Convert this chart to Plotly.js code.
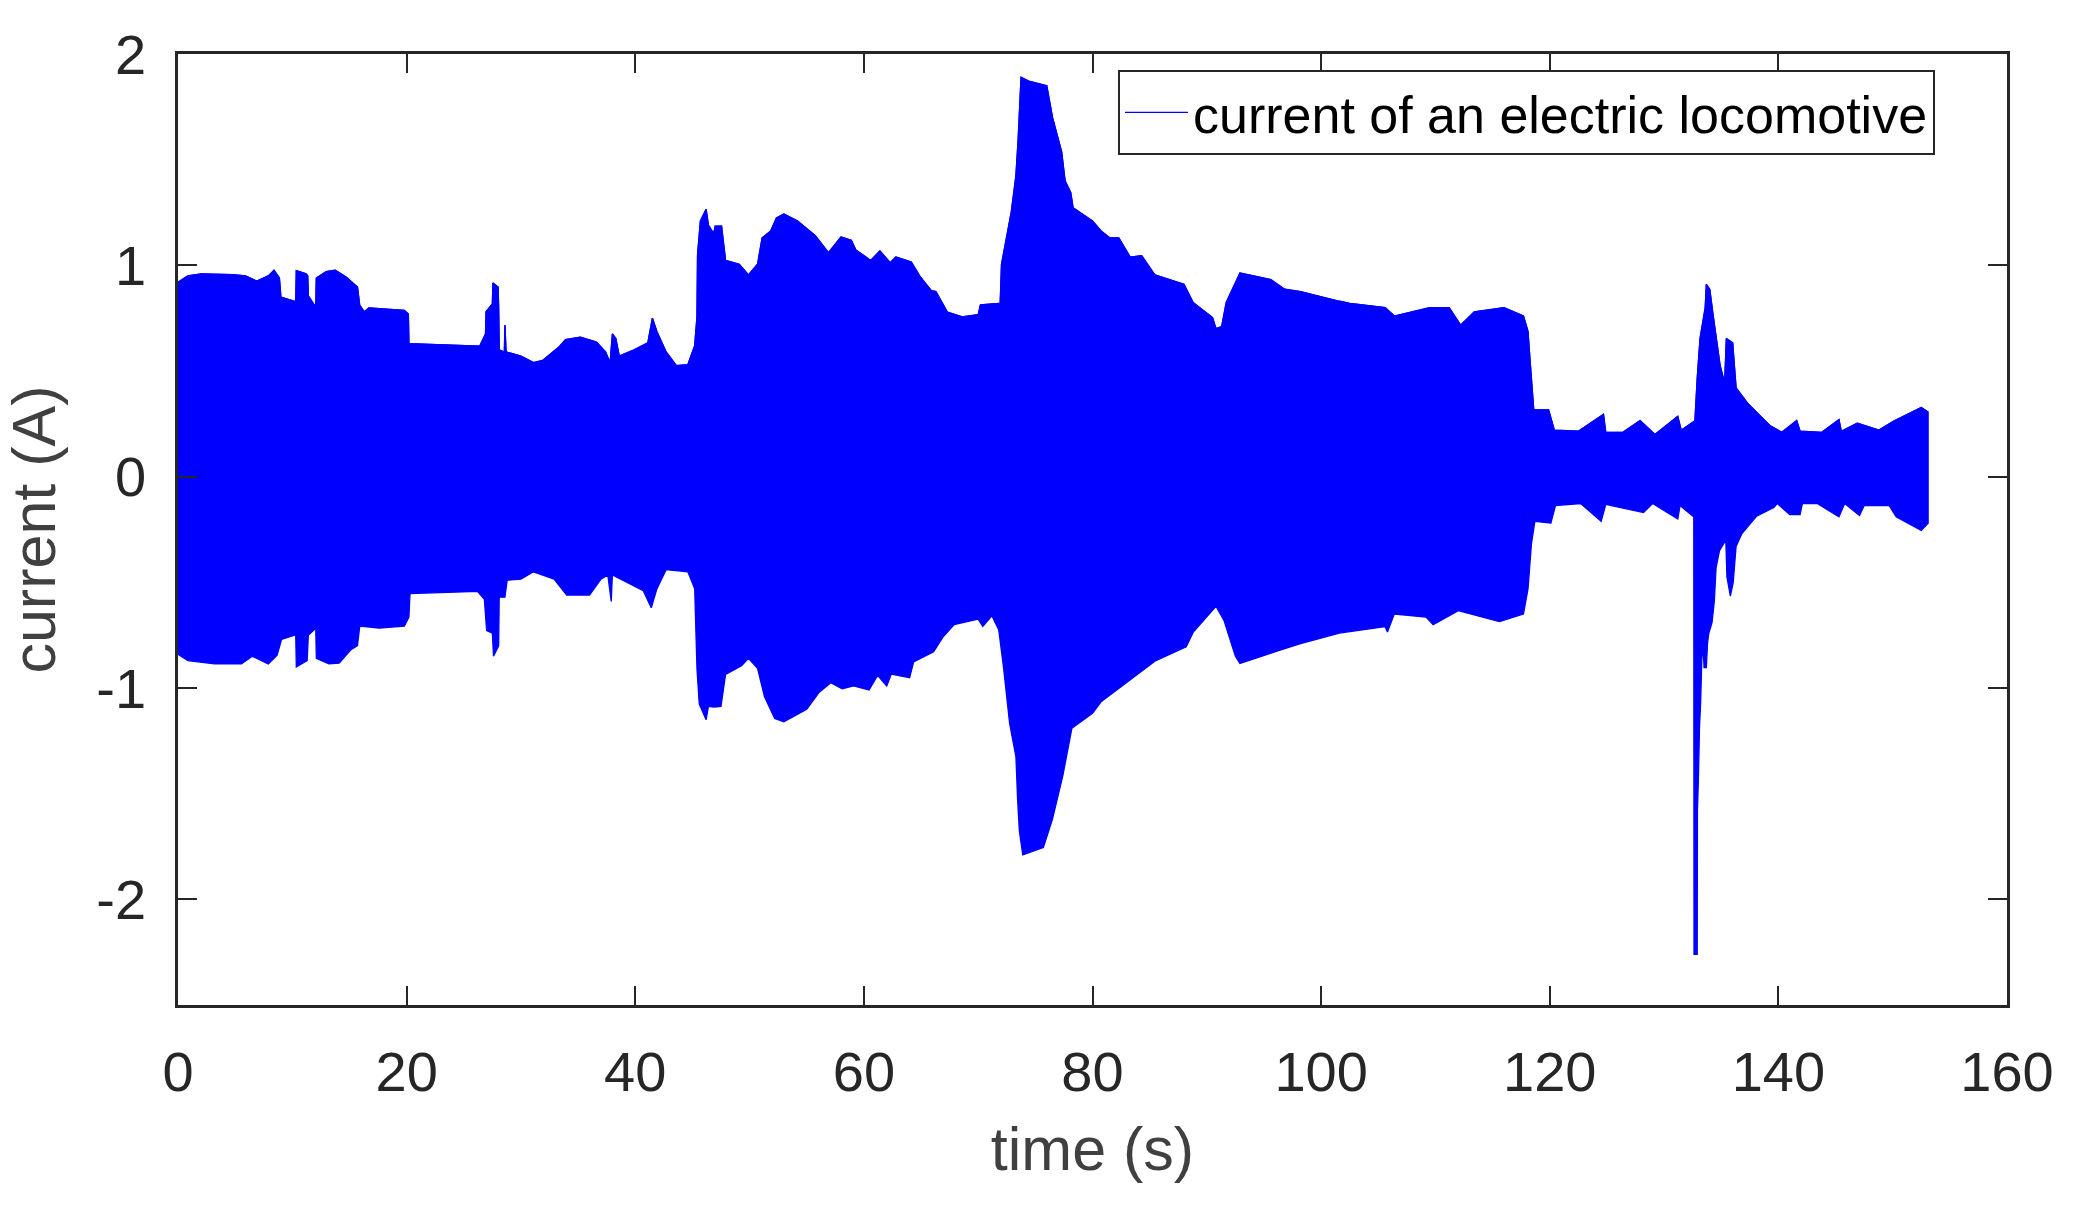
<!DOCTYPE html>
<html><head><meta charset="utf-8">
<script src="https://cdn.plot.ly/plotly-3.0.1.min.js"></script>
<style>html,body{margin:0;padding:0;background:#fff}#chart{width:2079px;height:1229px}</style>
</head><body><div id="chart"></div>
<script>
const upperTime = [0,.86,2.03,4.77,5.9,6.9,7.9,8.4,8.87,9.0,10.2,10.3,10.35,11.2,11.35,11.4,12,12.05,12.1,12.97,13.75,14.7,15.7,15.9,16.3,16.7,19.8,20.15,20.2,26.4,26.9,26.95,27.5,27.55,28,28.05,28.1,28.55,28.6,28.7,30,31.1,31.9,33.3,33.9,35.2,36.6,37.4,37.8,38,38.3,38.6,39.9,41.1,41.5,41.9,42.7,43.6,44.6,45.2,45.4,45.45,45.7,46.2,46.4,46.85,47,47.55,47.9,49.1,49.9,50.7,51.1,51.85,52.35,53,54.2,55.75,56.9,58,58.9,59.3,60.6,61.4,62.3,62.8,64.15,64.9,65.9,66.3,67.3,68.6,70,70.2,71.8,71.9,72.04,72.55,72.9,73.3,73.5,73.75,74.5,76,76.5,77.3,77.6,78.1,78.3,80,80.75,81.5,82.3,83.3,84.3,85.45,88,88.8,90.5,90.8,91.3,91.7,92.9,95.6,96.8,98.2,101.6,102.5,105.6,106.4,109.5,111.2,112.2,113.4,116,117.7,118.1,118.25,118.6,119.9,120.4,122.5,124.7,124.9,126.4,127.9,129.2,131.2,131.5,132.7,132.9,133.15,133.6,133.7,134,134.3,134.9,135.3,135.45,136,136.3,137.3,139.25,140.3,141.6,141.9,143.8,145.3,145.5,146.9,148.8,150.1,152.5,153.1];
const upperValues = [.92,.95,.96,.956,.95,.925,.95,.977,.94,.85,.83,.83,.975,.96,.95,.855,.806,.806,.94,.97,.977,.945,.897,.81,.78,.798,.787,.77,.63,.618,.675,.78,.817,.916,.897,.8,.6,.59,.717,.59,.57,.54,.55,.612,.648,.66,.637,.59,.538,.675,.654,.57,.6,.633,.75,.686,.59,.525,.53,.62,.756,1.05,1.21,1.265,1.19,1.15,1.186,1.186,1.023,1.005,.955,1.005,1.13,1.163,1.224,1.243,1.21,1.14,1.06,1.134,1.118,1.073,1.023,1.068,1.012,1.04,1.016,.948,.88,.876,.779,.756,.767,.813,.82,.783,1.005,1.152,1.254,1.424,1.6,1.89,1.87,1.85,1.7,1.537,1.4,1.344,1.272,1.21,1.163,1.13,1.13,1.039,1.046,.955,.91,.824,.752,.7,.71,.824,.964,.933,.887,.875,.83,.82,.8,.76,.8,.8,.717,.78,.8,.76,.686,.57,.316,.316,.22,.215,.295,.21,.21,.265,.2,.285,.22,.265,.464,.654,.8,.91,.886,.76,.527,.443,.654,.633,.42,.348,.242,.21,.265,.215,.21,.27,.215,.253,.22,.263,.327,.306];
const lowerTime = [0,.86,3.2,5.55,6.5,7.9,8.67,9.06,10.2,10.3,10.35,11.3,11.4,12,12.05,12.1,13.2,14.1,15.1,15.7,15.9,17.6,19.8,20.2,20.3,26.2,26.8,27,27.5,27.6,28.05,28.1,28.6,28.8,30,31.1,32.9,34,36,37,37.6,37.9,38,40.7,41.4,41.9,42.7,44.6,45.2,45.4,45.6,46.2,46.4,46.9,47.5,47.9,49.3,49.9,50.7,51.3,52.2,53,55,56.1,57.1,58.1,59.1,60.45,61.2,62,62.4,64,64.35,66.1,66.9,67.9,70,70.4,71.2,71.8,72.2,72.75,73.3,73.45,73.6,73.9,75.7,76.5,77.4,78.2,80,80.75,82.7,85.45,88.2,88.8,90.8,91.5,92.5,92.9,96,98.2,101.6,105.6,105.8,106.4,109.2,109.8,112,115.6,117.7,118.1,118.4,118.7,120.1,120.5,122.7,124.5,124.9,128.2,129,131.2,131.4,132.5,132.6,132.62,132.9,132.92,133,133.1,133.2,133.3,133.4,133.5,133.7,133.8,133.9,134.2,134.4,134.55,134.85,135.4,135.5,135.8,136.05,136.3,136.8,137.4,138.1,139.6,139.9,141,141.9,142.1,143.4,145.3,145.8,147.1,147.5,149.7,150.3,152.5,153.1];
const lowerValues = [-.84,-.87,-.886,-.886,-.85,-.886,-.845,-.77,-.75,-.75,-.9,-.87,-.75,-.72,-.72,-.86,-.886,-.882,-.82,-.8,-.707,-.717,-.707,-.665,-.553,-.543,-.58,-.728,-.74,-.85,-.8,-.57,-.57,-.49,-.485,-.45,-.485,-.56,-.56,-.485,-.465,-.59,-.465,-.54,-.62,-.53,-.44,-.45,-.53,-.91,-1.076,-1.15,-1.087,-1.09,-1.087,-.936,-.895,-.86,-.907,-1.04,-1.144,-1.16,-1.1,-1.02,-.975,-1.004,-.99,-1.009,-.94,-.99,-.934,-.952,-.877,-.828,-.76,-.7,-.674,-.708,-.658,-.726,-.895,-1.167,-1.325,-1.53,-1.676,-1.79,-1.755,-1.62,-1.416,-1.19,-1.12,-1.065,-.986,-.873,-.805,-.737,-.613,-.68,-.85,-.884,-.828,-.79,-.74,-.71,-.735,-.65,-.665,-.7,-.634,-.686,-.65,-.53,-.317,-.211,-.22,-.137,-.127,-.211,-.131,-.17,-.127,-.2,-.137,-.186,-.19,-2.26,-2.26,-1.58,-1.436,-1.186,-1.07,-.87,-.79,-.904,-.904,-.79,-.745,-.69,-.587,-.43,-.35,-.3,-.474,-.565,-.5,-.33,-.27,-.232,-.187,-.146,-.127,-.18,-.18,-.127,-.127,-.19,-.127,-.184,-.137,-.137,-.19,-.254,-.22];
const xTicks = [0,20,40,60,80,100,120,140,160];
const yTicks = [-2,-1,0,1,2];
const yTickLabels = ["-2","-1","0","1","2"];
const seriesName = "current of an electric locomotive";

const blue = "#0000ff", ink = "#262626";
const polyX = upperTime.concat(lowerTime.slice().reverse());
const polyY = upperValues.concat(lowerValues.slice().reverse());
const traces = [
  {x: polyX, y: polyY, type: "scatter", mode: "lines", fill: "toself", fillcolor: blue,
   line: {color: blue, width: 1.3, shape: "linear", simplify: false}, showlegend: false, hoverinfo: "skip"},
  {x: upperTime, y: upperValues, type: "scatter", mode: "lines", name: seriesName,
   line: {color: blue, width: 1.3, simplify: false}}
];
const axisCommon = {
  showgrid: false, zeroline: false, showline: true, linecolor: ink, linewidth: 2.7, mirror: "ticks",
  ticks: "inside", ticklen: 19, tickwidth: 2, tickcolor: ink,
  tickfont: {family: "Liberation Sans, Arial, sans-serif", size: 56, color: ink}
};
const layout = {
  width: 2079, height: 1229, paper_bgcolor: "#fff", plot_bgcolor: "#fff",
  margin: {l: 178, r: 72, t: 54, b: 224, pad: 0},
  xaxis: Object.assign({}, axisCommon, {range: [0,160], tickmode: "array", tickvals: xTicks, ticktext: xTicks.map(String),
    ticklabelstandoff: 16,
    title: {text: "time (s)", standoff: 26, font: {family: "Liberation Sans, Arial, sans-serif", size: 61, color: "#404040"}}}),
  yaxis: Object.assign({}, axisCommon, {range: [-2.5,2], tickmode: "array", tickvals: yTicks, ticktext: yTickLabels,
    ticklabelstandoff: 18,
    title: {text: "current (A)", standoff: 26, font: {family: "Liberation Sans, Arial, sans-serif", size: 61, color: "#404040"}}}),
  legend: {x: (1118-178)/1829, y: 1-(70-54)/951, xanchor: "left", yanchor: "top", bgcolor: "#fff", bordercolor: ink, borderwidth: 2,
    font: {family: "Liberation Sans, Arial, sans-serif", size: 52, color: "#000"}, itemwidth: 63, itemsizing: "trace"},
  showlegend: true
};
Plotly.newPlot("chart", traces, layout, {displayModeBar: false, staticPlot: true});
</script></body></html>
